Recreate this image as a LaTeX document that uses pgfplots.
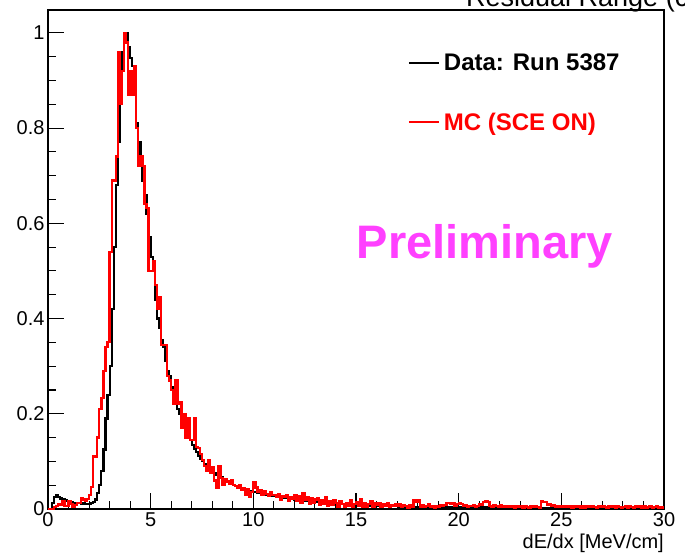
\documentclass[border=0pt]{standalone}
\usepackage{fontspec}
\setmainfont{Liberation Sans}
\usepackage{pgfplots}
\usepackage{pgfplotstable}
\pgfplotsset{compat=1.18}

\definecolor{prelim}{RGB}{255,64,255}

% dE/dx spectra, 0.1 MeV/cm bins (value = content of bin starting at x), peak-normalised
\pgfplotstableread{
x data mc
0.0 0 0
0.1 0 0
0.2 0.012 0
0.3 0.025 0.004
0.4 0.030 0.006
0.5 0.026 0.010
0.6 0.022 0.009
0.7 0.020 0.017
0.8 0.018 0.007
0.9 0.016 0.006
1.0 0.014 0.017
1.1 0.015 0.010
1.2 0.013 0.005
1.3 0.012 0.008
1.4 0.013 0.013
1.5 0.012 0.012
1.6 0.011 0.022
1.7 0.012 0.020
1.8 0.011 0.018
1.9 0.010 0.021
2.0 0.011 0.030
2.1 0.012 0.046
2.2 0.015 0.110
2.3 0.020 0.110
2.4 0.033 0.150
2.5 0.050 0.210
2.6 0.080 0.233
2.7 0.125 0.290
2.8 0.190 0.340
2.9 0.240 0.350
3.0 0.300 0.540
3.1 0.420 0.690
3.2 0.550 0.690
3.3 0.680 0.740
3.4 0.770 0.960
3.5 0.880 0.850
3.6 0.960 0.920
3.7 1.000 1.000
3.8 1.000 0.980
3.9 0.970 0.870
4.0 0.947 0.920
4.1 0.930 0.870
4.2 0.870 0.930
4.3 0.810 0.800
4.4 0.770 0.720
4.5 0.740 0.740
4.6 0.690 0.720
4.7 0.660 0.640
4.8 0.620 0.632
4.9 0.570 0.500
5.0 0.530 0.500
5.1 0.500 0.520
5.2 0.440 0.470
5.3 0.400 0.420
5.4 0.380 0.445
5.5 0.355 0.344
5.6 0.340 0.344
5.7 0.310 0.344
5.8 0.290 0.280
5.9 0.280 0.270
6.0 0.255 0.250
6.1 0.240 0.220
6.2 0.230 0.270
6.3 0.210 0.220
6.4 0.200 0.225
6.5 0.190 0.170
6.6 0.180 0.200
6.7 0.165 0.150
6.8 0.155 0.190
6.9 0.145 0.145
7.0 0.135 0.145
7.1 0.127 0.190
7.2 0.120 0.130
7.3 0.112 0.128
7.4 0.105 0.115
7.5 0.100 0.103
7.6 0.095 0.090
7.7 0.090 0.080
7.8 0.086 0.103
7.9 0.082 0.076
8.0 0.078 0.088
8.1 0.075 0.060
8.2 0.072 0.044
8.3 0.069 0.090
8.4 0.066 0.065
8.5 0.063 0.050
8.6 0.060 0.062
8.7 0.057 0.058
8.8 0.055 0.052
8.9 0.053 0.060
9.0 0.051 0.050
9.1 0.049 0.048
9.2 0.047 0.044
9.3 0.045 0.050
9.4 0.044 0.040
9.5 0.042 0.044
9.6 0.041 0.030
9.7 0.039 0.042
9.8 0.038 0.025
9.9 0.037 0.035
10.0 0.036 0.057
10.1 0.035 0.045
10.2 0.034 0.035
10.3 0.033 0.040
10.4 0.032 0.030
10.5 0.031 0.038
10.6 0.030 0.032
10.7 0.029 0.028
10.8 0.029 0.036
10.9 0.028 0.030
11.0 0.027 0.030
11.1 0.026 0.025
11.2 0.026 0.032
11.3 0.025 0.020
11.4 0.024 0.028
11.5 0.024 0.025
11.6 0.023 0.030
11.7 0.022 0.018
11.8 0.022 0.025
11.9 0.021 0.022
12.0 0.020 0.030
12.1 0.020 0.018
12.2 0.019 0.026
12.3 0.019 0.012
12.4 0.018 0.034
12.5 0.018 0.020
12.6 0.017 0.024
12.7 0.017 0.010
12.8 0.016 0.022
12.9 0.016 0.012
13.0 0.015 0.020
13.1 0.015 0.022
13.2 0.014 0.008
13.3 0.014 0.018
13.4 0.014 0.010
13.5 0.013 0.024
13.6 0.013 0.007
13.7 0.012 0.016
13.8 0.012 0.008
13.9 0.012 0.018
14.0 0.011 0.012
14.1 0.011 0.005
14.2 0.011 0.016
14.3 0.010 0.010
14.4 0.010 0.004
14.5 0.010 0.013
14.6 0.009 0.007
14.7 0.009 0.019
14.8 0.009 0.005
14.9 0.009 0.011
15.0 0.0085 0.015
15.1 0.008 0.007
15.2 0.008 0.021
15.3 0.008 0.005
15.4 0.0075 0.013
15.5 0.0075 0.004
15.6 0.007 0.011
15.7 0.007 0.017
15.8 0.007 0.005
15.9 0.007 0.013
16.0 0.0065 0.008
16.1 0.0065 0.013
16.2 0.0065 0.005
16.3 0.006 0.010
16.4 0.006 0.006
16.5 0.006 0.012
16.6 0.006 0.004
16.7 0.0058 0.009
16.8 0.0056 0.006
16.9 0.0055 0.011
17.0 0.0055 0.006
17.1 0.0054 0.010
17.2 0.0053 0.004
17.3 0.005 0.008
17.4 0.005 0.006
17.5 0.005 0.003
17.6 0.005 0.009
17.7 0.0048 0.005
17.8 0.0047 0.018
17.9 0.0046 0.016
18.0 0.0045 0.018
18.1 0.0045 0.005
18.2 0.0044 0.009
18.3 0.0044 0.004
18.4 0.0043 0.006
18.5 0.0043 0.010
18.6 0.0042 0.005
18.7 0.0042 0.007
18.8 0.0041 0.003
18.9 0.0041 0.006
19.0 0.0040 0.004
19.1 0.0042 0.008
19.2 0.0038 0.006
19.3 0.0040 0.009
19.4 0.0041 0.012
19.5 0.0039 0.012
19.6 0.0040 0.010
19.7 0.0038 0.012
19.8 0.0039 0.006
19.9 0.0040 0.010
20.0 0.0038 0.012
20.1 0.0037 0.010
20.2 0.0037 0.006
20.3 0.0036 0.008
20.4 0.0036 0.005
20.5 0.0035 0.007
20.6 0.0035 0.006
20.7 0.0035 0.009
20.8 0.0034 0.005
20.9 0.0034 0.007
21.0 0.0034 0.010
21.1 0.0033 0.008
21.2 0.0033 0.015
21.3 0.0033 0.016
21.4 0.0032 0.014
21.5 0.0032 0.006
21.6 0.0032 0.004
21.7 0.0031 0.008
21.8 0.0031 0.006
21.9 0.0031 0.005
22.0 0.0030 0.008
22.1 0.0030 0.004
22.2 0.0030 0.006
22.3 0.0029 0.005
22.4 0.0029 0.007
22.5 0.0029 0.004
22.6 0.0029 0.006
22.7 0.0028 0.003
22.8 0.0028 0.005
22.9 0.0028 0.004
23.0 0.0028 0.005
23.1 0.0027 0.003
23.2 0.0027 0.006
23.3 0.0027 0.004
23.4 0.0027 0.003
23.5 0.0026 0.005
23.6 0.0026 0.004
23.7 0.0026 0.006
23.8 0.0026 0.004
23.9 0.0026 0.003
24.0 0.0025 0.016
24.1 0.0025 0.014
24.2 0.0025 0.015
24.3 0.0025 0.008
24.4 0.0025 0.010
24.5 0.0024 0.006
24.6 0.0024 0.008
24.7 0.0024 0.005
24.8 0.0024 0.007
24.9 0.0024 0.004
25.0 0.0024 0.005
25.1 0.0023 0.007
25.2 0.0023 0.004
25.3 0.0023 0.006
25.4 0.0023 0.005
25.5 0.0023 0.003
25.6 0.0022 0.006
25.7 0.0022 0.004
25.8 0.0022 0.005
25.9 0.0022 0.003
26.0 0.0022 0.005
26.1 0.0022 0.003
26.2 0.0021 0.006
26.3 0.0021 0.004
26.4 0.0021 0.005
26.5 0.0021 0.007
26.6 0.0021 0.004
26.7 0.0021 0.003
26.8 0.0020 0.005
26.9 0.0020 0.004
27.0 0.0020 0.006
27.1 0.0020 0.004
27.2 0.0020 0.003
27.3 0.0020 0.005
27.4 0.0020 0.004
27.5 0.0019 0.006
27.6 0.0019 0.003
27.7 0.0019 0.005
27.8 0.0019 0.004
27.9 0.0019 0.003
28.0 0.0019 0.004
28.1 0.0019 0.006
28.2 0.0018 0.003
28.3 0.0018 0.005
28.4 0.0018 0.004
28.5 0.0018 0.003
28.6 0.0018 0.006
28.7 0.0018 0.004
28.8 0.0018 0.005
28.9 0.0018 0.003
29.0 0.0017 0.005
29.1 0.0017 0.003
29.2 0.0017 0.004
29.3 0.0017 0.006
29.4 0.0017 0.003
29.5 0.0017 0.004
29.6 0.0017 0.005
29.7 0.0016 0.003
29.8 0.0016 0.004
29.9 0.0016 0.003
30.0 0.0016 0.003
}\dEdx

\begin{document}
\begin{tikzpicture}
\useasboundingbox (0,0) rectangle (685pt,554pt);
% histogram title, running off the top edge of the canvas
\node[anchor=base west, inner sep=0pt, font=\fontsize{27}{30}\selectfont] at (466pt,547pt) {Residual Range (cm)};
\begin{axis}[
  scale only axis,
  width=616pt, height=499pt,
  at={(48pt,45pt)}, anchor=south west,
  xmin=0, xmax=30, ymin=0, ymax=1.048,
  xtick={0,5,...,30}, ytick={0,0.2,0.4,0.6,0.8,1},
  minor x tick num=4, minor y tick num=3,
  tick align=inside, xtick pos=left, ytick pos=left,
  major tick length=16pt, minor tick length=8pt,
  axis line style={line width=1.1pt},
  tick style={line width=1.1pt, black},
  ticklabel style={font=\fontsize{20}{24}\selectfont},
  /pgf/number format/assume math mode=true,
  yticklabel style={/pgf/number format/fixed, /pgf/number format/precision=1},
  xlabel={dE/dx [MeV/cm]},
  xlabel style={at={(axis description cs:1,0)}, anchor=base east, yshift=-39pt, inner sep=0pt, font=\fontsize{20}{24}\selectfont},
  legend style={at={(axis description cs:0.584,0.913)}, anchor=north west, draw=none, fill=none,
    font=\bfseries\fontsize{24}{28}\selectfont, row sep=41pt, inner sep=0pt,
    nodes={inner xsep=4pt, inner ysep=0pt}},
  legend cell align=left,
  legend image code/.code={\draw[#1, line width=2pt] (0pt,0pt) -- (30pt,0pt);},
]
\addplot[const plot mark left, black, line width=2.2pt] table[x=x, y=data] {\dEdx};
\addlegendentry{Data: Run 5387}
\addplot[const plot mark left, red, line width=2.3pt] table[x=x, y=mc] {\dEdx};
\addlegendentry{\textcolor{red}{MC (SCE ON)}}
\node[font=\bfseries\fontsize{47}{52}\selectfont, text=prelim] at (axis description cs:0.709,0.527) {Preliminary};
\end{axis}
\end{tikzpicture}
\end{document}
